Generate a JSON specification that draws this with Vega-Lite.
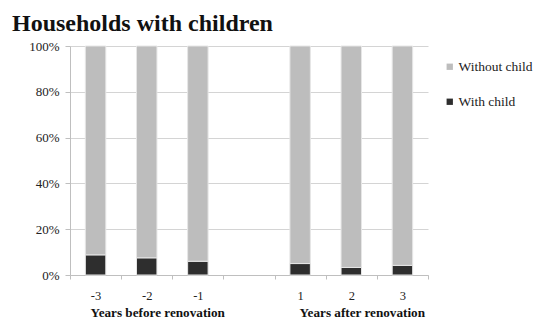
{
  "$schema": "https://vega.github.io/schema/vega-lite/v6.json",
  "width": 358,
  "height": 229,
  "autosize": "none",
  "padding": {"left": 70, "top": 46, "right": 106, "bottom": 45},
  "background": "white",
  "title": {
    "text": "Households with children",
    "anchor": "start",
    "frame": "group",
    "dx": -58,
    "offset": 4,
    "font": "Liberation Serif",
    "fontSize": 24,
    "fontWeight": "bold",
    "color": "#111111"
  },
  "config": {
    "view": {"stroke": null},
    "font": "Liberation Serif"
  },
  "data": {
    "values": [
      {"year": "-3", "group": "With child", "share": 8.8},
      {"year": "-3", "group": "Without child", "share": 91.2},
      {"year": "-2", "group": "With child", "share": 7.5},
      {"year": "-2", "group": "Without child", "share": 92.5},
      {"year": "-1", "group": "With child", "share": 6.0},
      {"year": "-1", "group": "Without child", "share": 94.0},
      {"year": "1", "group": "With child", "share": 5.0},
      {"year": "1", "group": "Without child", "share": 95.0},
      {"year": "2", "group": "With child", "share": 3.3},
      {"year": "2", "group": "Without child", "share": 96.7},
      {"year": "3", "group": "With child", "share": 4.2},
      {"year": "3", "group": "Without child", "share": 95.8}
    ]
  },
  "layer": [
    {
      "mark": {"type": "bar", "width": {"band": 0.4}, "stroke": "#e6e6e6", "strokeWidth": 1},
      "encoding": {
        "x": {
          "field": "year",
          "type": "ordinal",
          "scale": {"domain": ["-3", "-2", "-1", " ", "1", "2", "3"], "paddingInner": 0, "paddingOuter": 0},
          "axis": {
            "title": null,
            "labelAngle": 0,
            "tickBand": "extent",
            "tickSize": 4,
            "tickColor": "#bfbfbf",
            "domainColor": "#bfbfbf",
            "labelFont": "Liberation Serif",
            "labelFontSize": 12.5,
            "labelColor": "#222222",
            "labelPadding": 10,
            "grid": false
          }
        },
        "y": {
          "field": "share",
          "type": "quantitative",
          "stack": "normalize",
          "scale": {"domain": [0, 1]},
          "axis": {
            "title": null,
            "values": [0, 0.2, 0.4, 0.6, 0.8, 1],
            "format": ".0%",
            "tickSize": 5,
            "tickColor": "#bfbfbf",
            "domainColor": "#bfbfbf",
            "gridColor": "#d4d4d4",
            "labelFont": "Liberation Serif",
            "labelFontSize": 13,
            "labelColor": "#222222",
            "labelPadding": 6
          }
        },
        "color": {
          "field": "group",
          "type": "nominal",
          "scale": {"domain": ["Without child", "With child"], "range": ["#bdbdbd", "#2e2e2e"]},
          "legend": {
            "title": null,
            "orient": "none",
            "legendX": 373,
            "legendY": 14,
            "padding": 0,
            "symbolType": "square",
            "symbolSize": 40,
            "symbolStrokeWidth": 0,
            "labelOffset": 2,
            "rowPadding": 20,
            "labelFont": "Liberation Serif",
            "labelFontSize": 13.5,
            "labelColor": "#222222"
          }
        },
        "order": {"field": "group", "sort": "ascending"}
      }
    },
    {
      "mark": {"type": "tick", "opacity": 0},
      "encoding": {
        "x": {
          "field": "year",
          "type": "ordinal",
          "axis": {
            "orient": "bottom",
            "title": null,
            "labelAngle": 0,
            "domain": false,
            "ticks": false,
            "tickSize": 0,
            "grid": false,
            "labelOverlap": false,
            "labelBound": false,
            "labelExpr": "datum.value == '-2' ? 'Years before renovation' : datum.value == '2' ? 'Years after renovation' : ''",
            "labelOffset": 11,
            "labelPadding": 31,
            "labelFont": "Liberation Serif",
            "labelFontSize": 13.2,
            "labelFontWeight": "bold",
            "labelColor": "#111111"
          }
        }
      }
    }
  ],
  "resolve": {"axis": {"x": "independent"}}
}
